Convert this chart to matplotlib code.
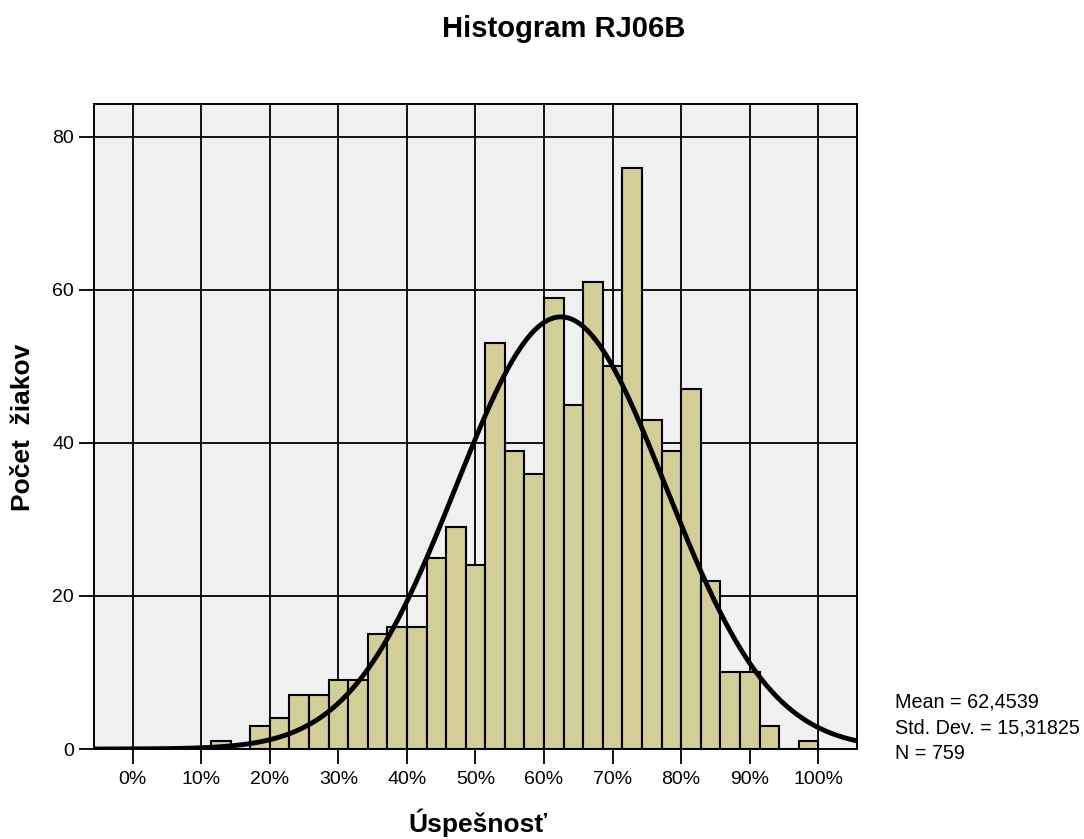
import matplotlib
matplotlib.use("Agg")
import matplotlib.pyplot as plt
import numpy as np

# ---- data ----
counts = [0, 0, 0, 0, 1, 0, 3, 4, 7, 7, 9, 9, 15, 16, 16, 25, 29, 24, 53, 39,
          36, 59, 45, 61, 50, 76, 43, 39, 47, 22, 10, 10, 3, 0, 1]
n_bins = 35
mean_val = 62.4539
sd_val = 15.31825
n_val = 759
x_ticks = [0, 10, 20, 30, 40, 50, 60, 70, 80, 90, 100]
x_tick_labels = [f"{t}%" for t in x_ticks]
y_ticks = [0, 20, 40, 60, 80]
title = "Histogram RJ06B"
x_label = "Úspešnosť"
y_label = "Počet  žiakov"
stats_lines = ["Mean = 62,4539", "Std. Dev. = 15,31825", "N = 759"]

plt.rcParams["font.family"] = ["Liberation Sans", "DejaVu Sans"]

W, H = 1084, 839
fig = plt.figure(figsize=(W / 100, H / 100), dpi=100)
fig.patch.set_facecolor("white")

left, right, top, bottom = 94, 856.7, 104, 749
ax = fig.add_axes([left / W, 1 - bottom / H, (right - left) / W, (bottom - top) / H])
ax.set_facecolor("#F0F0F0")

bin_w = 100 / n_bins
edges = np.arange(n_bins) * bin_w
ax.bar(edges, counts, width=bin_w, align="edge", color="#D3CE97",
       edgecolor="black", linewidth=1.5, zorder=2)

xlim = (-5.64, 105.6)
xs = np.linspace(xlim[0], xlim[1], 600)
ys = n_val * bin_w / (sd_val * np.sqrt(2 * np.pi)) * np.exp(-0.5 * ((xs - mean_val) / sd_val) ** 2)
ax.plot(xs, ys, color="black", linewidth=3.5, zorder=3, solid_capstyle="butt")

ax.set_xlim(*xlim)
ax.set_ylim(0, 84.3)
ax.set_xticks(x_ticks)
ax.set_xticklabels(x_tick_labels)
ax.set_yticks(y_ticks)

ax.set_axisbelow(True)
ax.grid(True, color="black", linewidth=1.3)
for s in ax.spines.values():
    s.set_color("black")
    s.set_linewidth(1.4)

ax.tick_params(axis="both", direction="out", length=10.8, width=1.3,
               labelsize=14, colors="black")
ax.tick_params(axis="x", pad=5)
ax.tick_params(axis="y", pad=3.5)

fig.text(564 / W, 1 - 37 / H, title, ha="center", va="baseline",
         fontsize=21, fontweight="bold")
fig.text(478 / W, 1 - 832 / H, x_label, ha="center", va="baseline",
         fontsize=19, fontweight="bold")
fig.text(23 / W, 1 - 427 / H, y_label, ha="center", va="center",
         rotation=90, fontsize=19, fontweight="bold")

for i, line in enumerate(stats_lines):
    fig.text(895 / W, 1 - (707 + 26 * i) / H, line, ha="left", va="baseline",
             fontsize=14.2)

fig.savefig("out.png", dpi=100)
